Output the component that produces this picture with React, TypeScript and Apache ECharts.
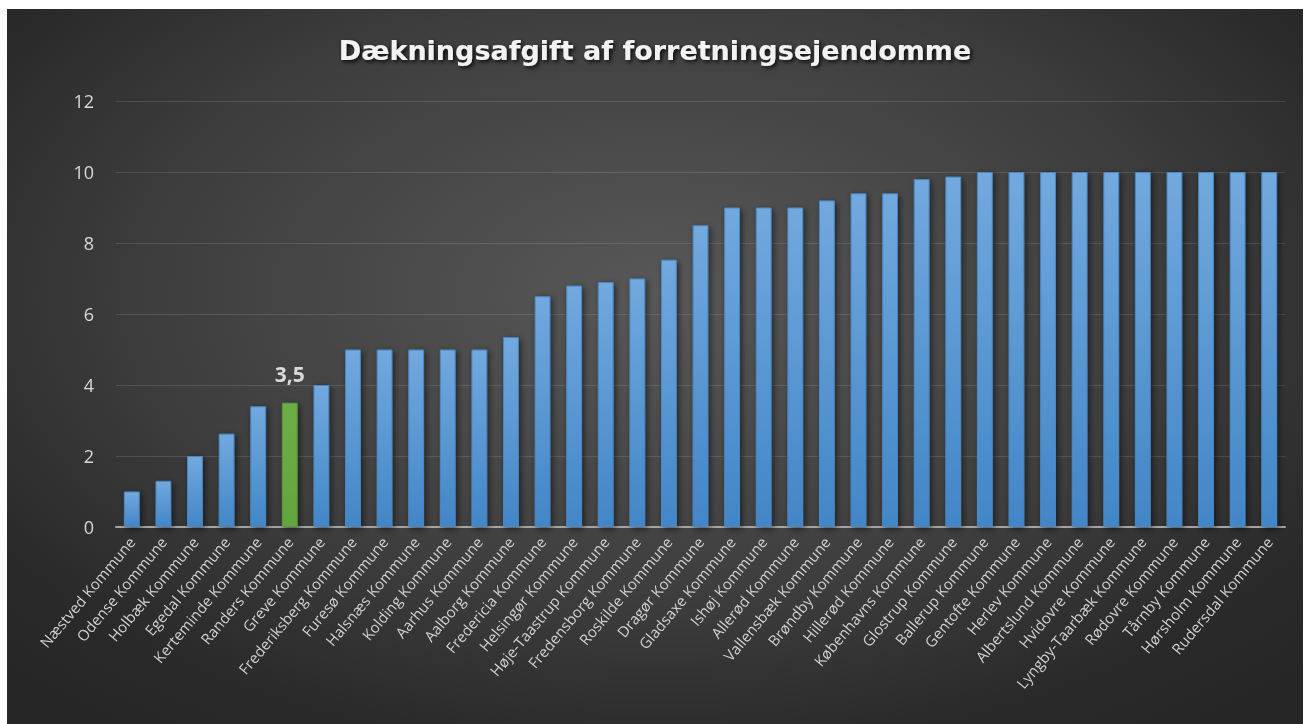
import React, { useEffect, useRef } from "react";
import * as echarts from "echarts";

const titleText = "Dækningsafgift af forretningsejendomme";

const categories = [
  "Næstved Kommune", "Odense Kommune", "Holbæk Kommune", "Egedal Kommune",
  "Kerteminde Kommune", "Randers Kommune", "Greve Kommune", "Frederiksberg Kommune",
  "Furesø Kommune", "Halsnæs Kommune", "Kolding Kommune", "Aarhus Kommune",
  "Aalborg Kommune", "Fredericia Kommune", "Helsingør Kommune", "Høje-Taastrup Kommune",
  "Fredensborg Kommune", "Roskilde Kommune", "Dragør Kommune", "Gladsaxe Kommune",
  "Ishøj Kommune", "Allerød Kommune", "Vallensbæk Kommune", "Brøndby Kommune",
  "Hillerød Kommune", "Københavns Kommune", "Glostrup Kommune", "Ballerup Kommune",
  "Gentofte Kommune", "Herlev Kommune", "Albertslund Kommune", "Hvidovre Kommune",
  "Lyngby-Taarbæk Kommune", "Rødovre Kommune", "Tårnby Kommune", "Hørsholm Kommune",
  "Rudersdal Kommune",
];

const values = [
  1.0, 1.3, 2.0, 2.63, 3.4, 3.5, 4.0, 5.0,
  5.0, 5.0, 5.0, 5.0,
  5.35, 6.5, 6.8, 6.9,
  7.0, 7.53, 8.5, 9.0,
  9.0, 9.0, 9.2, 9.4,
  9.4, 9.8, 9.87, 10,
  10, 10, 10, 10,
  10, 10, 10, 10,
  10,
];

const highlightName = "Randers Kommune";

const yTicks = { min: 0, max: 12, interval: 2 };

export default function App() {
  const ref = useRef<HTMLDivElement>(null);

  useEffect(() => {
    if (!ref.current) return;
    const chart = echarts.init(ref.current, undefined, { renderer: "svg" });

    const blue = new echarts.graphic.LinearGradient(0, 0, 0, 1, [
      { offset: 0, color: "#72a9de" },
      { offset: 1, color: "#4286c7" },
    ]);
    const green = new echarts.graphic.LinearGradient(0, 0, 0, 1, [
      { offset: 0, color: "#6eae48" },
      { offset: 1, color: "#64a43f" },
    ]);

    const data = values.map((v, i) => {
      if (categories[i] === highlightName) {
        return {
          value: v,
          itemStyle: { color: green, borderColor: "#5a9a38" },
          label: {
            show: true,
            position: "top",
            distance: 18,
            color: "#d9d9d9",
            fontSize: 21,
            fontWeight: "bold",
            fontFamily: "Open Sans",
            formatter: (p: any) => String(p.value).replace(".", ","),
          },
        };
      }
      return { value: v };
    });

    chart.setOption({
      animation: false,
      backgroundColor: "transparent",
      title: {
        text: titleText,
        left: "center",
        top: 23,
        textStyle: {
          color: "#f2f2f2",
          fontSize: 27,
          fontWeight: "bold",
          fontFamily: "DejaVu Sans",
          textShadowColor: "rgba(0,0,0,0.85)",
          textShadowBlur: 4,
          textShadowOffsetX: 2,
          textShadowOffsetY: 2,
        },
      },
      grid: { left: 109, right: 18, top: 92, bottom: 197, containLabel: false },
      xAxis: {
        type: "category",
        data: categories,
        axisLine: { show: true, lineStyle: { color: "#a6a6a6", width: 2 } },
        axisTick: { show: false },
        axisLabel: {
          interval: 0,
          rotate: 50,
          margin: 12,
          color: "#d0d0d0",
          fontSize: 15,
          fontFamily: "Open Sans",
        },
      },
      yAxis: {
        type: "value",
        min: yTicks.min,
        max: yTicks.max,
        interval: yTicks.interval,
        axisLine: { show: false },
        axisTick: { show: false },
        splitLine: { lineStyle: { color: "rgba(255,255,255,0.12)", width: 1 } },
        axisLabel: {
          margin: 22,
          color: "#d9d9d9",
          fontSize: 18,
          fontFamily: "Open Sans",
        },
      },
      series: [
        {
          type: "bar",
          data,
          barWidth: "50%",
          itemStyle: {
            color: blue,
            borderColor: "#4a88c4",
            borderWidth: 1,
            shadowColor: "rgba(0,0,0,0.55)",
            shadowBlur: 6,
            shadowOffsetX: 2,
            shadowOffsetY: 2,
          },
        },
      ],
    });

    return () => chart.dispose();
  }, []);

  return (
    <div
      style={{
        position: "fixed",
        left: 7,
        top: 9,
        width: 1296,
        height: 715,
        background:
          "radial-gradient(ellipse 70% 75% at 50% 40%, #585858 0%, #3e3e3e 55%, #2a2a2a 85%, #262626 100%)",
      }}
    >
      <div ref={ref} style={{ width: 1296, height: 715 }} />
    </div>
  );
}
